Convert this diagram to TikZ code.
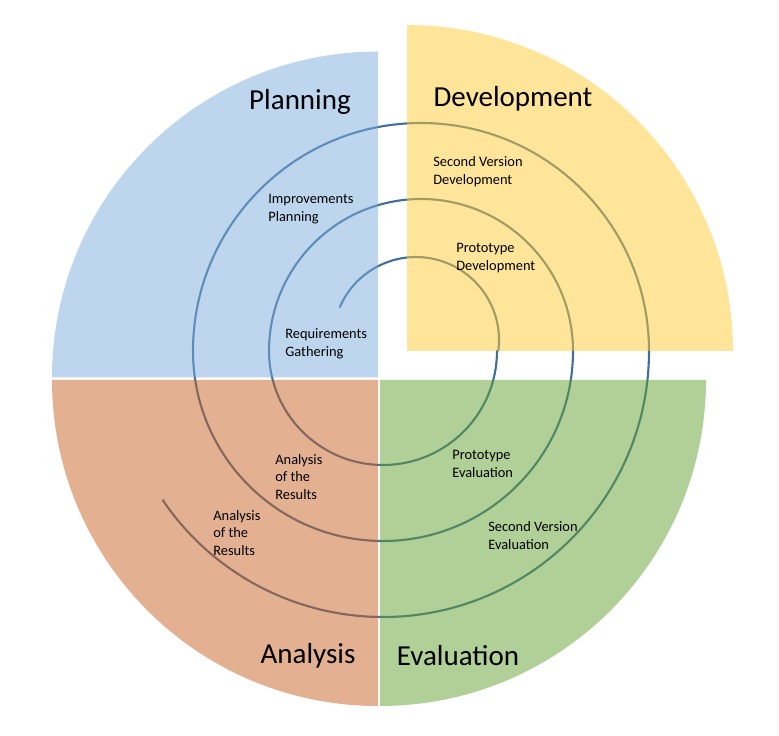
\documentclass[tikz,border=0pt]{standalone}
\usepackage{fontspec}
\setmainfont{Carlito}
\usepackage{xcolor}
\usepackage{tikz}
\usetikzlibrary{positioning}

\definecolor{planblue}{RGB}{123,173,221}
\definecolor{devyellow}{RGB}{255,203,51}
\definecolor{evalgreen}{RGB}{97,161,49}
\definecolor{anaorange}{RGB}{199,99,35}
\definecolor{spiralblue}{RGB}{66,110,152}

\begin{document}
\begin{tikzpicture}[x=0.02cm, y=0.02cm,
  quadrant/.style={fill opacity=0.5},
  phase/.style={font=\fontsize{16.5}{20}\selectfont, inner sep=0pt},
  task/.style={font=\fontsize{8.2}{10.2}\selectfont, align=left, anchor=west, inner sep=0pt},
  spiral/.style={spiralblue, line width=1.2pt}]
\useasboundingbox (0,0) rectangle (779,735);
\coordinate (spiral start) at (339.6,427.4);
\coordinate (spiral turn) at (497,384);
\draw[spiral] (spiral start) arc[start angle=157, end angle=-7, radius=83] -- (spiral turn)
  arc[start angle=0, end angle=-180, radius=114]
  arc[start angle=180, end angle=0, radius=152]
  arc[start angle=0, end angle=-180, radius=190]
  arc[start angle=180, end angle=0, radius=228]
  arc[start angle=0, end angle=-146, radius=266];
\fill[quadrant, planblue] (378,357.5) -- (52,357.5) arc[start angle=180, end angle=90, radius=326] -- cycle;
\fill[quadrant, devyellow] (407,384) -- (733,384) arc[start angle=0, end angle=90, radius=326] -- cycle;
\fill[quadrant, evalgreen] (380,355) -- (706,355) arc[start angle=0, end angle=-90, radius=326] -- cycle;
\fill[quadrant, anaorange] (378,355) -- (52,355) arc[start angle=180, end angle=270, radius=326] -- cycle;
\node[phase] (planning) at (300,633) {Planning};
\node[phase] (development) at (513,636) {Development};
\node[phase] (analysis) at (308,79) {Analysis};
\node[phase] (evaluation) at (458,79) {Evaluation};
\node[task] (improvements) at (268,526) {Improvements\\Planning};
\node[task] (second dev) at (433,563) {Second Version\\Development};
\node[task] (proto dev) at (456,477) {Prototype\\Development};
\node[task] (requirements) at (285,391) {Requirements\\Gathering};
\node[task] (results inner) at (275,258) {Analysis\\of the\\Results};
\node[task] (results outer) at (213,202) {Analysis\\of the\\Results};
\node[task] (proto eval) at (452,271) {Prototype\\Evaluation};
\node[task] (second eval) at (488,199) {Second Version\\Evaluation};
\end{tikzpicture}
\end{document}
